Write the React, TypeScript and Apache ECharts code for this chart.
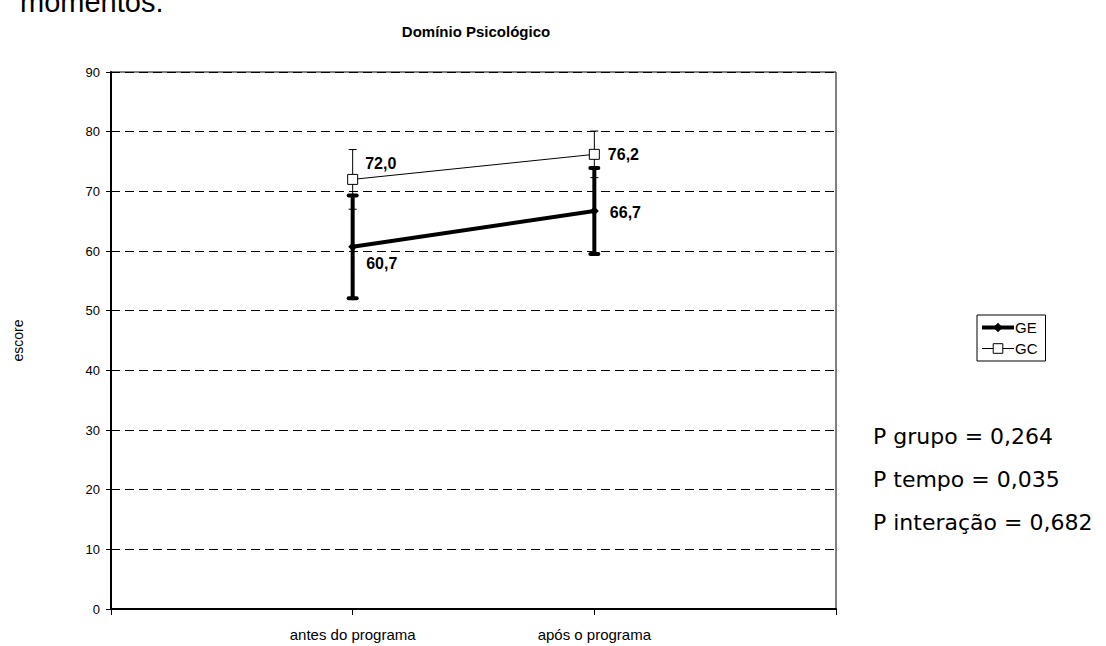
import React, { useEffect, useRef } from "react";
import * as echarts from "echarts";

const categories = ["", "antes do programa", "após o programa", ""];
const geMeans = [60.7, 66.7];
const gcMeans = [72.0, 76.2];
const geSd = [8.6, 7.2];
const gcSd = [5.0, 3.9];
const yTicks = { min: 0, max: 90, interval: 10 };
const statLines = ["P grupo = 0,264", "P tempo = 0,035", "P interação = 0,682"];

const fmt = (v: number) => v.toFixed(1).replace(".", ",");

export default function App() {
  const ref = useRef<HTMLDivElement>(null);
  useEffect(() => {
    if (!ref.current) return;
    const chart = echarts.init(ref.current, undefined, { renderer: "svg" });

    const geOffsets = [[4, 17], [6, 1]];
    const gcOffsets = [[2, -16], [3, 0]];

    const geData: any[] = ["-", ...geMeans.map((v, i) => ({
      value: v,
      label: { offset: geOffsets[i] },
    })), "-"];
    const gcData: any[] = ["-", ...gcMeans.map((v, i) => ({
      value: v,
      label: { offset: gcOffsets[i] },
    })), "-"];

    const geErr = geMeans.map((m, i) => [i + 1, m - geSd[i], m + geSd[i]]);
    const gcErr = gcMeans.map((m, i) => [i + 1, m - gcSd[i], m + gcSd[i]]);

    const errRender = (width: number, capHalf: number, round: boolean) =>
      (params: any, api: any) => {
        const x = api.value(0);
        const lo = api.coord([x, api.value(1)]);
        const hi = api.coord([x, api.value(2)]);
        const style = { stroke: "#000", lineWidth: width, lineCap: round ? "round" : "butt" };
        return {
          type: "group",
          children: [
            { type: "line", shape: { x1: lo[0], y1: lo[1], x2: hi[0], y2: hi[1] }, style },
            { type: "line", shape: { x1: lo[0] - capHalf, y1: lo[1], x2: lo[0] + capHalf, y2: lo[1] }, style },
            { type: "line", shape: { x1: hi[0] - capHalf, y1: hi[1], x2: hi[0] + capHalf, y2: hi[1] }, style },
          ],
        };
      };

    const font = "'Liberation Sans', Arial, sans-serif";

    chart.setOption({
      animation: false,
      backgroundColor: "#fff",
      textStyle: { fontFamily: font, color: "#000" },
      title: {
        text: "Domínio Psicológico",
        left: 471,
        top: 19,
        textAlign: "center",
        textStyle: { fontFamily: font, fontSize: 15, fontWeight: "bold", color: "#000" },
      },
      legend: {
        data: [
          { name: "GE", itemStyle: { color: "#000" }, lineStyle: { width: 4, color: "#000" } },
          { name: "GC", itemStyle: { color: "#fff", borderColor: "#000", borderWidth: 1 }, lineStyle: { width: 1, color: "#000" } },
        ],
        orient: "vertical",
        left: 977,
        top: 315,
        borderColor: "#000",
        borderWidth: 1,
        borderRadius: 0,
        padding: [5, 8, 5, 3],
        itemGap: 6,
        itemWidth: 32,
        itemHeight: 12,
        textStyle: { fontFamily: font, fontSize: 15, color: "#000", padding: [0, 0, 0, -4] },
      },
      grid: {
        left: 111,
        right: 270,
        top: 72,
        bottom: 37,
        show: true,
        borderColor: "#000",
        borderWidth: 1,
        containLabel: false,
      },
      xAxis: {
        type: "category",
        data: categories,
        boundaryGap: false,
        axisLine: { lineStyle: { color: "#000", width: 2 } },
        axisTick: { show: true, inside: false, length: 6, interval: 0, lineStyle: { color: "#000" } },
        axisLabel: { interval: 0, margin: 18, fontSize: 15, color: "#000", fontFamily: font },
        splitLine: { show: false },
      },
      yAxis: {
        type: "value",
        min: yTicks.min,
        max: yTicks.max,
        interval: yTicks.interval,
        name: "escore",
        nameLocation: "middle",
        nameRotate: 90,
        nameGap: 86,
        nameTextStyle: { fontFamily: font, fontSize: 14, color: "#000" },
        axisLine: { show: true, lineStyle: { color: "#000", width: 2 } },
        axisTick: { show: true, length: 5, lineStyle: { color: "#000" } },
        axisLabel: { margin: 11, fontSize: 13, color: "#000", fontFamily: font },
        splitLine: { show: true, lineStyle: { color: "#000", type: [9, 5], width: 1 } },
      },
      series: [
        {
          type: "custom",
          name: "GC-err",
          renderItem: errRender(1, 4, false),
          data: gcErr,
          encode: { x: 0, y: [1, 2] },
          z: 1,
          silent: true,
        },
        {
          type: "custom",
          name: "GE-err",
          renderItem: errRender(4, 4, true),
          data: geErr,
          encode: { x: 0, y: [1, 2] },
          z: 2,
          silent: true,
        },
        {
          type: "line",
          name: "GE",
          data: geData,
          lineStyle: { color: "#000", width: 4 },
          itemStyle: { color: "#000" },
          symbol: "diamond",
          symbolSize: 9,
          showAllSymbol: true,
          connectNulls: false,
          z: 3,
          label: {
            show: true,
            position: "right",
            formatter: (p: any) => fmt(p.value),
            fontFamily: font,
            fontWeight: "bold",
            fontSize: 16,
            color: "#000",
          },
        },
        {
          type: "line",
          name: "GC",
          data: gcData,
          lineStyle: { color: "#000", width: 1 },
          itemStyle: { color: "#fff", borderColor: "#000", borderWidth: 1 },
          symbol: "rect",
          symbolSize: 10,
          showAllSymbol: true,
          z: 4,
          label: {
            show: true,
            position: "right",
            formatter: (p: any) => fmt(p.value),
            fontFamily: font,
            fontWeight: "bold",
            fontSize: 16,
            color: "#000",
          },
        },
      ],
      graphic: [
        {
          type: "text",
          left: 20,
          top: -13,
          style: { text: "momentos.", fontSize: 29, fontFamily: font, fill: "#000" },
        },
        ...statLines.map((t, i) => ({
          type: "text",
          x: 873,
          y: 436 + i * 43,
          style: {
            text: t,
            fontSize: 22,
            fontFamily: "'DejaVu Sans', sans-serif",
            fill: "#000",
            textVerticalAlign: "middle",
            verticalAlign: "middle",
          },
        })),
      ],
    });
    return () => chart.dispose();
  }, []);
  return (
    <div
      ref={ref}
      style={{ position: "fixed", left: 0, top: 0, width: 1106, height: 646, background: "#fff" }}
    />
  );
}
